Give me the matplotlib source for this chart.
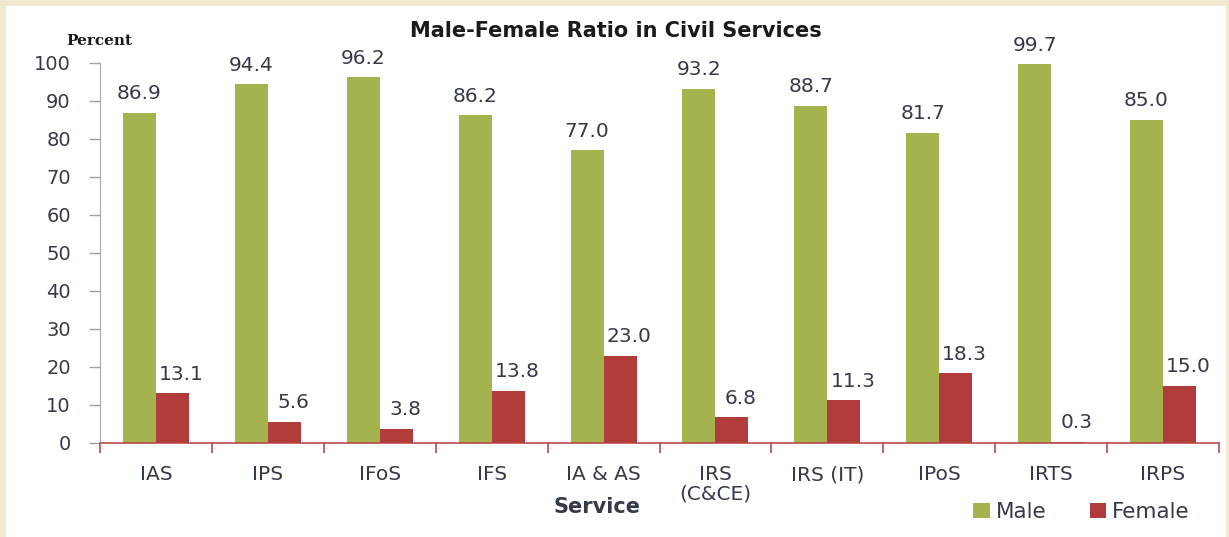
import matplotlib
matplotlib.use("Agg")
import matplotlib.pyplot as plt
import numpy as np
from matplotlib.patches import Rectangle

services = ["IAS", "IPS", "IFoS", "IFS", "IA & AS", "IRS\n(C&CE)", "IRS (IT)", "IPoS", "IRTS", "IRPS"]
male = [86.9, 94.4, 96.2, 86.2, 77.0, 93.2, 88.7, 81.7, 99.7, 85.0]
female = [13.1, 5.6, 3.8, 13.8, 23.0, 6.8, 11.3, 18.3, 0.3, 15.0]
yticks = [0, 10, 20, 30, 40, 50, 60, 70, 80, 90, 100]

GREEN = "#a5b34f"
RED = "#b23c3c"
TXT = "#353a48"

plt.rcParams["font.family"] = ["DejaVu Sans"]

W, H = 1229, 537
fig = plt.figure(figsize=(W / 100, H / 100), dpi=100)
fig.patch.set_facecolor("#f2e8d0")
# white card behind the chart
fig.patches.append(Rectangle((6 / W, 0), 1220 / W, 531 / H, transform=fig.transFigure,
                             facecolor="white", edgecolor="none", zorder=-10))

ax = fig.add_axes([100 / W, 1 - 443 / H, 1119 / W, 380 / H])
ax.set_zorder(1)
ax.set_facecolor("white")

x = np.arange(len(services))
w = 0.295
ax.bar(x - w / 2, male, w, color=GREEN, label="Male", zorder=2)
ax.bar(x + w / 2, female, w, color=RED, label="Female", zorder=2)

for xi, v in zip(x, male):
    ax.text(xi - w / 2, v + 2.5, f"{v:.1f}", ha="center", va="bottom", fontsize=14.5, color=TXT,
            clip_on=False)
# female labels sit a little right of their bars in the original
for xi, v in zip(x, female):
    ax.text(xi + w / 2 + 0.08, v + 2.5, f"{v:.1f}", ha="center", va="bottom", fontsize=14.5,
            color=TXT)

ax.set_xlim(-0.5, len(services) - 0.5)
ax.set_ylim(0, 100)
ax.set_yticks(yticks)
ax.tick_params(axis="y", labelsize=14, colors="#a0a0a0", labelcolor=TXT, length=8, width=1, pad=13)
ax.set_xticks(x)
ax.set_xticklabels(services, fontsize=14.5, color=TXT, linespacing=1.0)
ax.tick_params(axis="x", length=0, pad=16)
ax.set_xticks(np.arange(-0.5, len(services)), minor=True)
ax.tick_params(axis="x", which="minor", length=7, width=1.2, color="#b84a4a")

for s in ("top", "right"):
    ax.spines[s].set_visible(False)
ax.spines["left"].set_color("#a8a8a8")
ax.spines["bottom"].set_color("#b84a4a")
ax.spines["bottom"].set_linewidth(1.2)

fig.text(597 / W, 1 - 507 / H, "Service", ha="center", va="center", fontsize=15,
         fontweight="bold", color=TXT)
fig.text(616 / W, 1 - 31 / H, "Male-Female Ratio in Civil Services", ha="center", va="center",
         fontsize=15, fontweight="bold", color="#1a1a1a")
fig.text(99 / W, 1 - 41 / H, "Percent", ha="center", va="center", fontsize=11,
         fontweight="bold", family="DejaVu Serif", color="#1a1a1a")

fig.legend(*ax.get_legend_handles_labels(), loc="center right",
           bbox_to_anchor=(1190 / W, 1 - 512 / H), ncol=2, frameon=False, fontsize=15.5,
           handlelength=0.75, handleheight=0.75, handletextpad=0.3, columnspacing=2.0,
           labelcolor=TXT, borderaxespad=0, borderpad=0)

fig.savefig("out.png", dpi=100, facecolor=fig.get_facecolor())
